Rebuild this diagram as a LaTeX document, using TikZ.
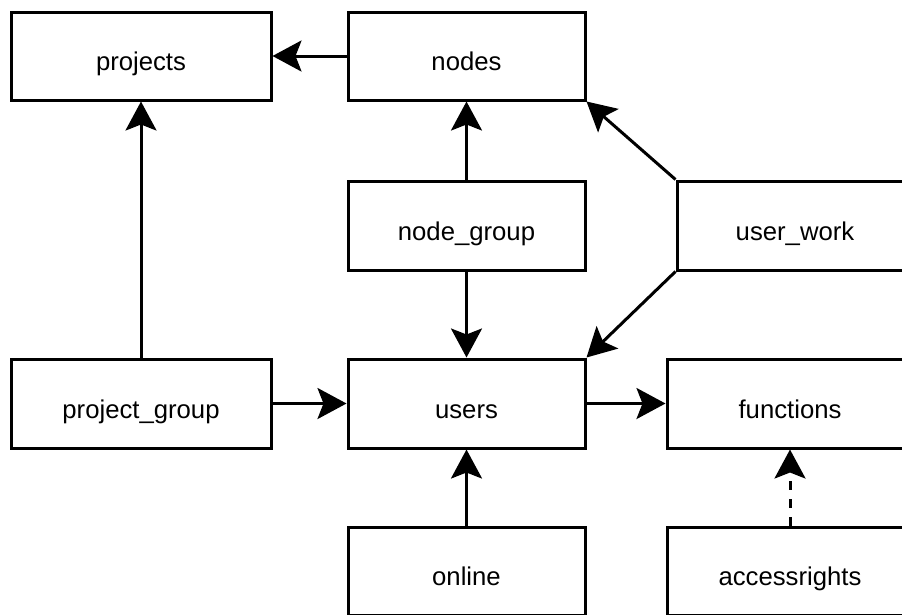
\documentclass[tikz,border=0pt]{standalone}
\usepackage{fontspec}
\setmainfont{Liberation Sans}
\usetikzlibrary{arrows.meta}
\begin{document}
\begin{tikzpicture}[x=1pt,y=-1pt,
  entity/.style={draw, line width=3pt, minimum width=#1, minimum height=88pt,
    inner sep=0pt, text height=29pt, text depth=0pt,
    font=\fontsize{25.7}{30}\selectfont},
  link/.style={line width=3pt, -{Stealth[length=29pt, width=31pt, inset=6pt]}},
  weaklink/.style={link, dash pattern=on 9pt off 9pt}]
  \useasboundingbox (0,0) rectangle (902,614);
  \clip (0,0) rectangle (902,614);
  % first row
  \node[entity=260pt] (projects) at (141,56) {projects};
  \node[entity=237pt] (nodes) at (466.5,56) {nodes};
  % second row
  \node[entity=237pt, minimum height=89pt] (nodegroup) at (466.5,225.5) {node\_group};
  \node[entity=236pt, minimum height=89pt] (userwork) at (795,225.5) {user\_work};
  % third row
  \node[entity=260pt, minimum height=89pt] (projectgroup) at (141,403.5) {project\_group};
  \node[entity=237pt, minimum height=89pt] (users) at (466.5,403.5) {users};
  \node[entity=246pt, minimum height=89pt] (functions) at (790,403.5) {functions};
  % fourth row
  \node[entity=237pt] (online) at (466.5,571) {online};
  \node[entity=246pt] (accessrights) at (790,571) {accessrights};
  % connectors
  \draw[link] (nodes) -- (projects);
  \draw[link] (nodegroup) -- (nodes);
  \draw[link] (nodegroup) -- (users);
  \draw[link] (projectgroup) -- (projects);
  \draw[link] (projectgroup) -- (users);
  \draw[link] (userwork.north west) -- (nodes.south east);
  \draw[link] (userwork.south west) -- (users.north east);
  \draw[link] (users) -- (functions);
  \draw[link] (online) -- (users);
  \draw[weaklink] (accessrights) -- (functions);
\end{tikzpicture}
\end{document}
